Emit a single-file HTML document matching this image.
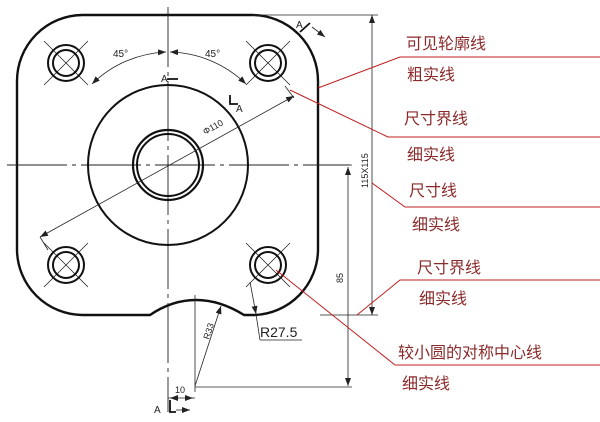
<!DOCTYPE html>
<html><head><meta charset="utf-8"><style>
html,body{margin:0;padding:0;background:#fff;width:600px;height:422px;overflow:hidden}
svg{display:block}
.t{font-family:"Liberation Sans",sans-serif;fill:#222}
.c{font-family:"Liberation Sans","Noto Sans CJK SC",sans-serif;font-size:16px;fill:#8b2a2a}
</style></head><body>
<svg width="600" height="422" viewBox="0 0 600 422" xmlns="http://www.w3.org/2000/svg">
<defs><marker id="ar" markerWidth="8" markerHeight="6" refX="8" refY="3" orient="auto-start-reverse" markerUnits="userSpaceOnUse"><path d="M0,0L8,3L0,6z" fill="#222"/></marker></defs>
<!-- outline -->
<path d="M82,15 L252,15 A66,66 0 0 1 318,81 L318,250 A66,66 0 0 1 255,315 L244,315 Q220,300 196,300 Q172,300 150,315 L82,315 A66,66 0 0 1 17,250 L17,81 A66,66 0 0 1 82,15 Z" fill="none" stroke="#111" stroke-width="2.4"/>
<!-- center lines -->
<g stroke="#222" stroke-width="0.9" fill="none">
<line x1="7" y1="165" x2="350" y2="165" stroke-dasharray="60,5,4,5"/>
<line x1="168" y1="7" x2="168" y2="412" stroke-dasharray="60,5,4,5"/>
</g>
<!-- circles -->
<circle cx="168" cy="165" r="80" fill="none" stroke="#111" stroke-width="2"/>
<circle cx="168" cy="165" r="35" fill="none" stroke="#111" stroke-width="2.2"/>
<circle cx="168" cy="165" r="31" fill="none" stroke="#111" stroke-width="2"/>
<g fill="none" stroke="#111">
<g transform="translate(66,63)"><circle r="18" stroke-width="2"/><circle r="13" stroke-width="2"/><path d="M-22,-22L22,22M22,-22L-22,22" stroke-width="0.7"/></g>
<g transform="translate(268,63)"><circle r="18" stroke-width="2"/><circle r="13" stroke-width="2"/><path d="M-22,-22L22,22M22,-22L-22,22" stroke-width="0.7"/></g>
<g transform="translate(66,265)"><circle r="18" stroke-width="2"/><circle r="13" stroke-width="2"/><path d="M-22,-22L22,22M22,-22L-22,22" stroke-width="0.7"/></g>
<g transform="translate(268,265)"><circle r="18" stroke-width="2"/><circle r="13" stroke-width="2"/><path d="M-22,-22L22,22M22,-22L-22,22" stroke-width="0.7"/></g>
</g>
<!-- dims -->
<g stroke="#222" stroke-width="0.8" fill="none">
<path d="M92,84 A113,113 0 0 1 166,52" marker-start="url(#ar)" marker-end="url(#ar)"/>
<path d="M170,52 A113,113 0 0 1 246,84" marker-start="url(#ar)" marker-end="url(#ar)"/>
<line x1="40" y1="237" x2="294" y2="96" marker-start="url(#ar)" marker-end="url(#ar)"/>
<line x1="40" y1="237" x2="48" y2="250"/>
<line x1="285" y1="86" x2="294" y2="98"/>
<line x1="252" y1="15" x2="378" y2="15"/>
<line x1="320" y1="315" x2="378" y2="315"/>
<line x1="372" y1="15" x2="372" y2="315" marker-start="url(#ar)" marker-end="url(#ar)"/>
<line x1="330" y1="165" x2="352" y2="165"/>
<line x1="348" y1="167" x2="348" y2="386" marker-start="url(#ar)" marker-end="url(#ar)"/>
<line x1="195" y1="387" x2="352" y2="387"/>
<line x1="195" y1="295" x2="195" y2="392"/>
<line x1="195" y1="386" x2="221" y2="306" marker-end="url(#ar)"/>
<line x1="168" y1="398" x2="195" y2="398"/>
<line x1="170" y1="398" x2="178" y2="398" marker-start="url(#ar)"/>
<line x1="185" y1="398" x2="193" y2="398" marker-end="url(#ar)"/>
<line x1="250" y1="282" x2="256" y2="314" marker-end="url(#ar)"/>
<line x1="256" y1="314" x2="260" y2="340"/>
<line x1="260" y1="340" x2="302" y2="340"/>
<line x1="176" y1="410" x2="190" y2="410" marker-end="url(#ar)"/>
<line x1="312" y1="27" x2="325" y2="37" marker-end="url(#ar)"/>
</g>
<g stroke="#111" stroke-width="1.8" fill="none">
<path d="M168,80 L168,79 L178,79"/>
<path d="M230,95 L230,104 L238,104"/>
<path d="M300,32 L310,23"/>
<path d="M170,400 L170,412 L176,412"/>
</g>
<g class="t" font-size="10">
<text x="113" y="57">45°</text>
<text x="205" y="57">45°</text>
<text x="161" y="82">A</text>
<text x="236" y="112">A</text>
<text x="296" y="28">A</text>
<text x="154" y="413">A</text>
<text x="175" y="393" font-size="9">10</text>
<text x="260" y="337" font-size="14">R27.5</text>
<text transform="translate(205,135) rotate(-29)" font-size="9">Φ110</text>
<text transform="translate(368,188) rotate(-90)" font-size="9">115X115</text>
<text transform="translate(343,283) rotate(-90)" font-size="9">85</text>
<text transform="translate(209,340) rotate(-72)" font-size="9">R33</text>
</g>
<!-- red leaders -->
<g stroke="#c02020" stroke-width="1" fill="none">
<path d="M318,88 L400,57 L600,57"/>
<path d="M290,90 L388,137 L600,137"/>
<path d="M372,183 L405,207 L600,207"/>
<path d="M357,315 L400,280 L600,280"/>
<path d="M276,270 L395,365 L600,365"/>
</g>
<g class="c">
<text x="406" y="49">可见轮廓线</text>
<text x="407" y="80">粗实线</text>
<text x="404" y="124">尺寸界线</text>
<text x="407" y="160">细实线</text>
<text x="409" y="196">尺寸线</text>
<text x="412" y="230">细实线</text>
<text x="417" y="273">尺寸界线</text>
<text x="419" y="304">细实线</text>
<text x="398" y="358">较小圆的对称中心线</text>
<text x="402" y="389">细实线</text>
</g>
</svg>
</body></html>
